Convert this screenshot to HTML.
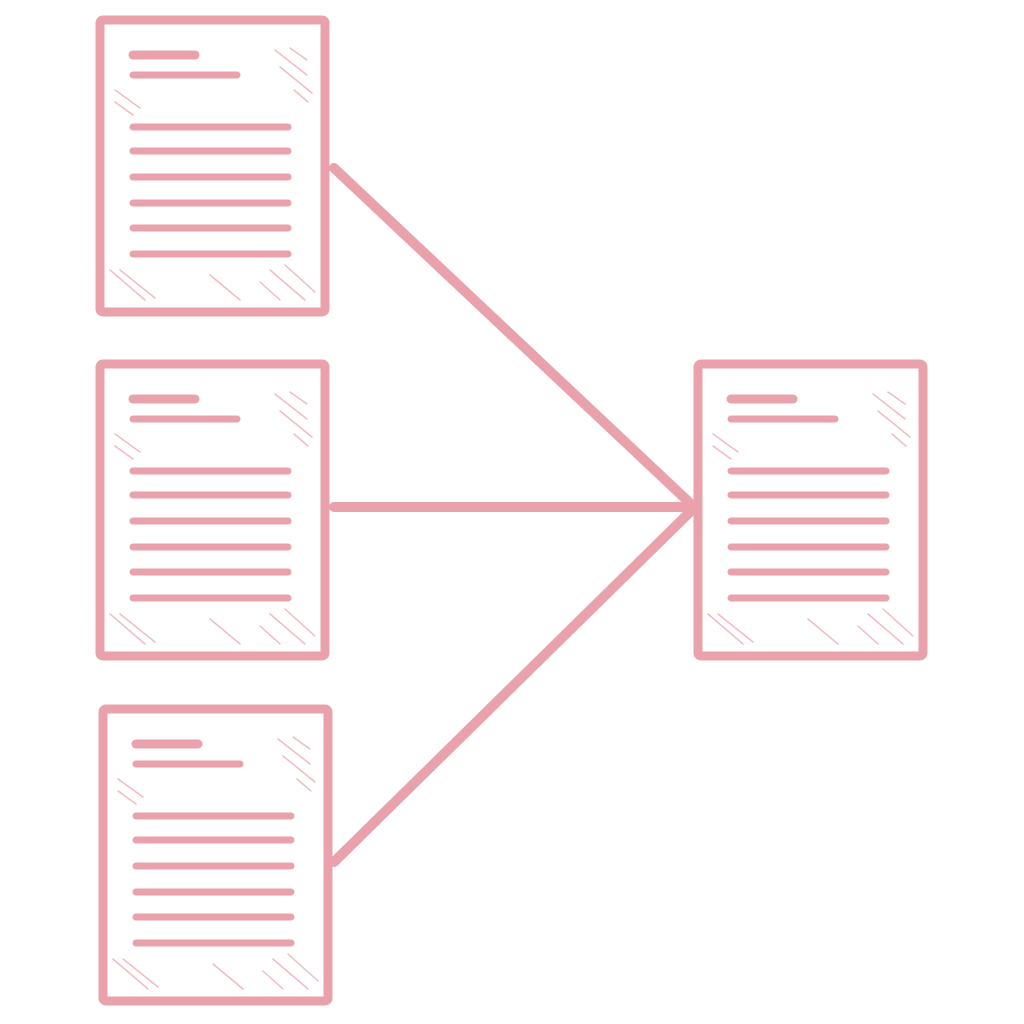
<!DOCTYPE html>
<html><head><meta charset="utf-8"><style>html,body{margin:0;padding:0;background:#fff}svg{display:block}</style></head>
<body>
<svg width="1024" height="1024" viewBox="0 0 1024 1024" xmlns="http://www.w3.org/2000/svg">
<defs>
<g id="doc">
  <rect x="0" y="0" width="225" height="292" rx="3" fill="#fff" stroke="#e9a2ab" stroke-width="9"/>
  <g stroke="#e9a2ab" stroke-linecap="round">
    <line x1="33" y1="35" x2="95" y2="35" stroke-width="9"/>
    <line x1="33" y1="55" x2="137" y2="55" stroke-width="7"/>
    <line x1="33" y1="107" x2="188" y2="107" stroke-width="7"/>
    <line x1="33" y1="131" x2="188" y2="131" stroke-width="7"/>
    <line x1="33" y1="157" x2="188" y2="157" stroke-width="7"/>
    <line x1="33" y1="183" x2="188" y2="183" stroke-width="7"/>
    <line x1="33" y1="208" x2="188" y2="208" stroke-width="7"/>
    <line x1="33" y1="234" x2="188" y2="234" stroke-width="7"/>
  </g>
  <g stroke="#f0bcc2" stroke-width="1.5" stroke-linecap="round">
    <line x1="175" y1="30" x2="207" y2="55"/>
    <line x1="190" y1="28" x2="207" y2="40"/>
    <line x1="180" y1="47" x2="212" y2="73"/>
    <line x1="194" y1="70" x2="208" y2="82"/>
    <line x1="15" y1="70" x2="40" y2="88"/>
    <line x1="15" y1="82" x2="33" y2="95"/>
    <line x1="10" y1="250" x2="45" y2="280"/>
    <line x1="20" y1="250" x2="55" y2="278"/>
    <line x1="110" y1="255" x2="140" y2="280"/>
    <line x1="170" y1="250" x2="205" y2="280"/>
    <line x1="185" y1="245" x2="215" y2="272"/>
    <line x1="160" y1="262" x2="180" y2="280"/>
  </g>
</g>
</defs>
<g stroke="#e9a2ab" stroke-width="10" stroke-linecap="round">
  <line x1="334" y1="168" x2="692" y2="505"/>
  <line x1="334" y1="507" x2="692" y2="507"/>
  <line x1="334" y1="862" x2="692" y2="510"/>
</g>
<use href="#doc" x="100" y="20"/>
<use href="#doc" x="100" y="364"/>
<use href="#doc" x="103" y="709"/>
<use href="#doc" x="698" y="364"/>
</svg>
</body></html>
